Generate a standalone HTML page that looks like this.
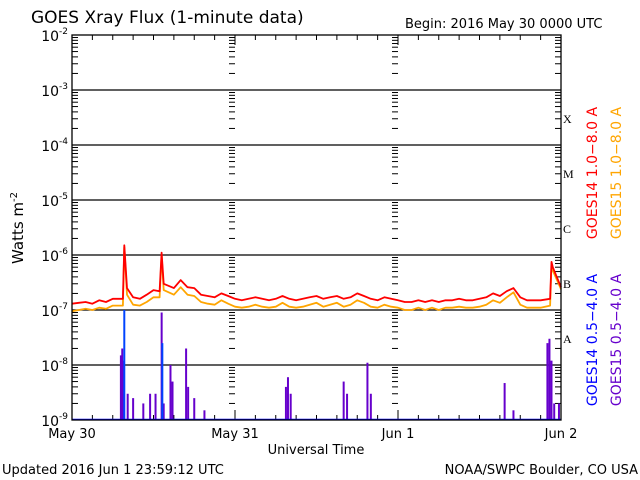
<!DOCTYPE html>
<html><head><meta charset="utf-8">
<style>
html,body{margin:0;padding:0;background:#fff;}
svg{display:block;font-family:"DejaVu Sans","Liberation Sans",sans-serif;}
</style></head>
<body>
<svg id="chart" width="640" height="480" viewBox="0 0 640 480" xmlns="http://www.w3.org/2000/svg">
<text x="31" y="23" font-size="17" fill="#000">GOES Xray Flux (1-minute data)</text>
<text x="405" y="28" font-size="13" fill="#000">Begin:  2016 May 30 0000 UTC</text>
<text transform="translate(23,228) rotate(-90)" text-anchor="middle" font-size="15" fill="#000">Watts m<tspan dy="-6" font-size="10">-2</tspan></text>
<text x="316" y="454" text-anchor="middle" font-size="13" fill="#000">Universal Time</text>
<text x="2" y="474" font-size="13" fill="#000">Updated 2016 Jun  1 23:59:12 UTC</text>
<text x="638" y="474" text-anchor="end" font-size="13" fill="#000">NOAA/SWPC Boulder, CO USA</text>
<text transform="translate(597,173) rotate(-90)" text-anchor="middle" font-size="14" fill="#ff0000">GOES14 1.0−8.0 A</text>
<text transform="translate(621,173) rotate(-90)" text-anchor="middle" font-size="14" fill="#ffa500">GOES15 1.0−8.0 A</text>
<text transform="translate(597,340) rotate(-90)" text-anchor="middle" font-size="14" fill="#0000ff">GOES14 0.5−4.0 A</text>
<text transform="translate(621,340) rotate(-90)" text-anchor="middle" font-size="14" fill="#6600cc">GOES15 0.5−4.0 A</text>
<g id="plot"></g>
</svg>
<script>
// Data: hourly long-channel background flux (W/m^2), hours 0..72 from 2016 May 30 00 UTC
const longHours = 72;
const goes14Long = [1.3e-7,1.35e-7,1.4e-7,1.3e-7,1.5e-7,1.4e-7,1.6e-7,1.5e-7,1.6e-7,1.7e-7,1.6e-7,1.9e-7,2.3e-7,1.8e-7,3e-7,2.5e-7,3.5e-7,2.6e-7,2.5e-7,1.9e-7,1.8e-7,1.7e-7,2e-7,1.8e-7,
1.6e-7,1.5e-7,1.6e-7,1.7e-7,1.6e-7,1.5e-7,1.6e-7,1.8e-7,1.6e-7,1.5e-7,1.6e-7,1.7e-7,1.8e-7,1.6e-7,1.7e-7,1.8e-7,1.6e-7,1.7e-7,2.0e-7,1.8e-7,1.6e-7,1.5e-7,1.7e-7,1.6e-7,
1.5e-7,1.4e-7,1.4e-7,1.5e-7,1.4e-7,1.5e-7,1.4e-7,1.5e-7,1.5e-7,1.6e-7,1.5e-7,1.5e-7,1.6e-7,1.7e-7,2.0e-7,1.8e-7,2.2e-7,2.5e-7,1.7e-7,1.5e-7,1.5e-7,1.5e-7,1.6e-7,4e-7,2.6e-7];
const goes15Long = [0.95e-7,1.0e-7,1.05e-7,1.0e-7,1.1e-7,1.05e-7,1.2e-7,1.15e-7,1.2e-7,1.25e-7,1.2e-7,1.4e-7,1.7e-7,1.3e-7,2.2e-7,1.9e-7,2.6e-7,1.9e-7,1.8e-7,1.4e-7,1.3e-7,1.25e-7,1.5e-7,1.3e-7,
1.15e-7,1.1e-7,1.15e-7,1.25e-7,1.15e-7,1.1e-7,1.15e-7,1.35e-7,1.15e-7,1.1e-7,1.15e-7,1.25e-7,1.35e-7,1.15e-7,1.25e-7,1.35e-7,1.15e-7,1.25e-7,1.5e-7,1.35e-7,1.15e-7,1.1e-7,1.25e-7,1.15e-7,
1.1e-7,1.0e-7,1.0e-7,1.1e-7,1.0e-7,1.1e-7,1.0e-7,1.1e-7,1.1e-7,1.15e-7,1.1e-7,1.1e-7,1.15e-7,1.25e-7,1.5e-7,1.35e-7,1.7e-7,2.1e-7,1.25e-7,1.1e-7,1.1e-7,1.1e-7,1.2e-7,3.6e-7,2.4e-7];
// Narrow flare events in long channel: times (hours) and values
const longEventTimes = [7.5,7.7,8.1,12.9,13.2,13.5,70.4,70.6,70.8,71.2];
const goes14EventVals = [1.6e-7,1.5e-6,2.5e-7,2.2e-7,1.1e-6,3e-7,1.6e-7,7.5e-7,6e-7,4.5e-7];
const goes15EventVals = [1.2e-7,1.4e-6,1.9e-7,1.7e-7,1.0e-6,2.3e-7,1.2e-7,6.5e-7,5.2e-7,4e-7];
// Short channel spikes: times (hours) and peak values
const goes15ShortTimes = [7.2,7.4,7.6,8.2,9,10.5,11.5,12.3,13.2,13.5,14.5,14.8,16.8,17.1,18,19.5,31.5,31.8,32.2,40,40.5,43.5,44,63.7,65,70,70.3,70.6,71,71.7];
const goes15ShortVals  = [1.5e-8,2e-8,1.2e-8,3e-9,2.5e-9,2e-9,3e-9,3e-9,9e-8,2e-9,1e-8,5e-9,2e-8,4e-9,2.5e-9,1.5e-9,4e-9,6e-9,3e-9,5e-9,3e-9,1.1e-8,3e-9,4.7e-9,1.5e-9,2.5e-8,3e-8,1.2e-8,2e-9,2e-9];
const goes14ShortTimes = [7.7,13.3];
const goes14ShortVals  = [1e-7,2.5e-8];
const dayLabels = ["May 30","May 31","Jun 1","Jun 2"];
const classLabels = ["A","B","C","M","X"];

const NS="http://www.w3.org/2000/svg";
const X0=72,X1=561,Y_TOP=35,Y_BOT=420,DEC=55;
const xs=h=>X0+(X1-X0)*h/longHours;
const ys=v=>Y_BOT-(Math.log10(v)+9)*DEC;
const g=document.getElementById('plot');
function el(tag,attrs,parent){const e=document.createElementNS(NS,tag);for(const k in attrs)e.setAttribute(k,attrs[k]);(parent||g).appendChild(e);return e;}

for(let d=-9;d<=-2;d++){
  const y=ys(Math.pow(10,d));
  if(d>-9&&d<-2){const l=el('line',{x1:X0,x2:X1,y1:y,y2:y,stroke:'#000','stroke-width':1.3});
  
  }
  const t=el('text',{x:X0-4,y:y+6,'text-anchor':'end','font-size':14,fill:'#000'});
  
  
  t.textContent='10';
  const s=el('tspan',{dy:-7,'font-size':9},t);s.textContent=String(d);
  if(d<-2){for(let m=2;m<=9;m++){const ym=ys(m*Math.pow(10,d));
    [X0,232,395].forEach(xx=>{const tk=el('line',{x1:xx,x2:xx+(xx===X0?6:3),y1:ym,y2:ym,stroke:'#000'});
      
      });
    [232,395,X1].forEach(xx=>{const tk=el('line',{x1:xx-(xx===X1?6:3),x2:xx,y1:ym,y2:ym,stroke:'#000'});
      
      });
  }}
}
for(let h=0;h<=72;h+=3){const x=xs(h);const major=h%24===0;
  const a=el('line',{x1:x,x2:x,y1:Y_BOT,y2:Y_BOT-(major?10:5),stroke:'#000'});
  
  
  const b=el('line',{x1:x,x2:x,y1:Y_TOP,y2:Y_TOP+(major?10:5),stroke:'#000'});
  
  
}
dayLabels.forEach((lab,i)=>{const t=el('text',{x:xs(i*24),y:438,'text-anchor':'middle','font-size':13,fill:'#000'});
  
  
  t.textContent=lab;});
classLabels.forEach((lab,i)=>{const t=el('text',{x:563,y:ys(Math.pow(10,-8+i))-22,'font-size':12,'font-family':'Liberation Serif,serif',fill:'#000'});
  
  
  t.textContent=lab;});

function series(arr,evVals,color,name){
  const n=arr.length;const pts=[];
  arr.forEach((v,i)=>{const h=i*longHours/(n-1);
    if(!longEventTimes.some(t=>Math.abs(t-h)<0.6))pts.push([h,v]);});
  longEventTimes.forEach((t,i)=>pts.push([t,evVals[i]]));
  pts.sort((a,b)=>a[0]-b[0]);
  let d='';
  pts.forEach((p,i)=>{d+=(i?'L':'M')+xs(p[0]).toFixed(1)+','+ys(p[1]).toFixed(1);});
  const p=el('path',{d:d,fill:'none',stroke:color,'stroke-width':1.8,'stroke-linejoin':'round'});
  
  
}
series(goes15Long,goes15EventVals,'#ffa500','goes15-long-line');
series(goes14Long,goes14EventVals,'#ff0000','goes14-long-line');

function bars(times,vals,color,name){
  times.forEach((h,i)=>{const x=xs(h);
    const b=el('line',{x1:x,x2:x,y1:Y_BOT,y2:ys(vals[i]),stroke:color,'stroke-width':2});
    
    });
}
bars(goes15ShortTimes,goes15ShortVals,'#6600cc','goes15-short-spike');
bars(goes14ShortTimes,goes14ShortVals,'#0044ff','goes14-short-spike');
const base=el('line',{x1:X0,x2:X1,y1:Y_BOT-0.5,y2:Y_BOT-0.5,stroke:'#0000ff','stroke-width':1.5});


const frame=el('rect',{x:X0,y:Y_TOP,width:X1-X0,height:Y_BOT-Y_TOP,fill:'none',stroke:'#000','stroke-width':1.3});


</script>
</body></html>
